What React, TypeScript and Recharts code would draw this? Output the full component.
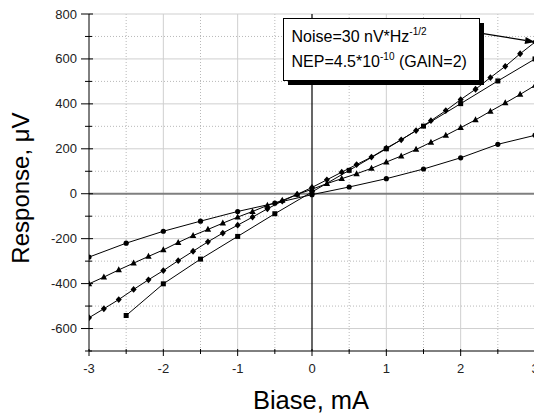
import { LineChart, Line, XAxis, YAxis, CartesianGrid, ReferenceLine } from "recharts";

// bias values, mA
const circleX = [-3, -2.5, -2, -1.5, -1, -0.5, 0, 0.5, 1, 1.5, 2, 2.5, 3];
const fineX = [
    -3, -2.8, -2.6, -2.4, -2.2, -2, -1.8, -1.6, -1.4, -1.2, -1, -0.8, -0.6, -0.4, -0.2,
    0, 0.2, 0.4, 0.6, 0.8, 1, 1.2, 1.4, 1.6, 1.8, 2, 2.2, 2.4, 2.6, 2.8, 3,
];
const squareX = [-2.5, -2, -1.5, -1, -0.5, 0, 0.5, 1, 1.5, 2, 2.5, 3];

// response, uV
const circleY = [-282, -220, -167, -122, -79, -42, -4, 30, 67, 110, 160, 220, 260];
const triangleY = [
    -401, -371, -339, -309, -279, -250, -217, -186, -159, -131, -104, -79, -52, -30, -3,
    20, 45, 67, 89, 113, 141, 168, 197, 229, 260, 294, 329, 367, 404, 442, 482,
];
const diamondY = [
    -552, -512, -471, -426, -383, -342, -298, -256, -214, -175, -140, -104, -67, -33, -3,
    28, 62, 96, 130, 163, 203, 240, 281, 325, 370, 419, 465, 517, 567, 623, 675,
];
const squareY = [-542, -401, -291, -190, -89, 8, 104, 200, 301, 401, 502, 600];

// axis ticks
const xTicks = [-3, -2.5, -2, -1.5, -1, -0.5, 0, 0.5, 1, 1.5, 2, 2.5, 3];
const yTicks = [-700, -600, -500, -400, -300, -200, -100, 0, 100, 200, 300, 400, 500, 600, 700, 800];
const xMajor = [-2, -1, 1, 2, 3];
const xMinor = [-2.5, -1.5, -0.5, 0.5, 1.5, 2.5];
const yMajor = [-600, -400, -200, 200, 400, 600, 800];
const yMinor = [-500, -300, -100, 100, 300, 500, 700];

// annotation arrow: from the box edge to the last diamond point
const arrowFrom = { x: 2.305, y: 713 };
const arrowTo = { x: 3, y: 675 };

const FONT = "'Liberation Sans', Arial, sans-serif";

const toPoints = (xs: number[], ys: number[]) => xs.map((x, i) => ({ x, y: ys[i] }));

const circles = toPoints(circleX, circleY);
const triangles = toPoints(fineX, triangleY);
const diamonds = toPoints(fineX, diamondY);
const squares = toPoints(squareX, squareY);

const CircleDot = (p: any) =>
    p.cx == null ? null : <circle key={p.index} cx={p.cx} cy={p.cy} r={2.6} fill="#000" />;

const TriangleDot = (p: any) =>
    p.cx == null ? null : (
        <polygon
            key={p.index}
            points={`${p.cx},${p.cy - 3.6} ${p.cx - 3.2},${p.cy + 2.4} ${p.cx + 3.2},${p.cy + 2.4}`}
            fill="#000"
        />
    );

const DiamondDot = (p: any) =>
    p.cx == null ? null : (
        <polygon
            key={p.index}
            points={`${p.cx},${p.cy - 3.4} ${p.cx + 3},${p.cy} ${p.cx},${p.cy + 3.4} ${p.cx - 3},${p.cy}`}
            fill="#000"
        />
    );

const SquareDot = (p: any) =>
    p.cx == null ? null : (
        <rect key={p.index} x={p.cx - 2.5} y={p.cy - 2.5} width={5} height={5} fill="#000" />
    );

const YTick = (p: any) => {
    const v = p.payload.value;
    const major = v % 200 === 0;
    return (
        <g>
            <line x1={p.x - (major ? 8 : 4)} x2={p.x + (major ? 4 : 3)} y1={p.y} y2={p.y} stroke="#000" />
            {major && (
                <text x={p.x - 12} y={p.y + 4.5} textAnchor="end" fontSize={13} fontFamily={FONT} fill="#222">
                    {v}
                </text>
            )}
        </g>
    );
};

const XTick = (p: any) => {
    const v = p.payload.value;
    const major = Number.isInteger(v);
    return (
        <g>
            <line x1={p.x} x2={p.x} y1={p.y - 2} y2={p.y + (major ? 5 : 3)} stroke="#000" />
            {major && (
                <text x={p.x} y={p.y + 22} textAnchor="middle" fontSize={13} fontFamily={FONT} fill="#222">
                    {v}
                </text>
            )}
        </g>
    );
};

const Arrow = (p: any) => {
    const { x1, y1, x2, y2 } = p;
    const dx = x2 - x1;
    const dy = y2 - y1;
    const len = Math.sqrt(dx * dx + dy * dy) || 1;
    const ux = dx / len;
    const uy = dy / len;
    const bx = x2 - ux * 10;
    const by = y2 - uy * 10;
    return (
        <g>
            <line x1={x1} y1={y1} x2={bx} y2={by} stroke="#000" strokeWidth={1.2} />
            <polygon
                points={`${x2},${y2} ${bx - uy * 3.5},${by + ux * 3.5} ${bx + uy * 3.5},${by - ux * 3.5}`}
                fill="#000"
            />
        </g>
    );
};

export default function App() {
    return (
        <div
            style={{
                position: "absolute",
                left: 0,
                top: 0,
                width: 534,
                height: 414,
                overflow: "hidden",
                background: "#fff",
            }}
        >
            <LineChart width={540} height={414} margin={{ top: 14, right: 5, bottom: 23, left: 29 }}>
                <CartesianGrid
                    verticalValues={xMinor}
                    horizontalValues={yMinor}
                    stroke="#b8b8b8"
                    strokeDasharray="1 2"
                />
                <CartesianGrid verticalValues={xMajor} horizontalValues={yMajor} stroke="#cfcfcf" />
                <XAxis
                    type="number"
                    dataKey="x"
                    domain={[-3, 3]}
                    ticks={xTicks}
                    interval={0}
                    height={40}
                    tickSize={0}
                    tickMargin={0}
                    tickLine={false}
                    axisLine={{ stroke: "#000" }}
                    tick={XTick}
                    allowDataOverflow
                />
                <YAxis
                    type="number"
                    dataKey="y"
                    domain={[-700, 800]}
                    ticks={yTicks}
                    interval={0}
                    width={60}
                    tickSize={0}
                    tickMargin={0}
                    tickLine={false}
                    axisLine={{ stroke: "#000" }}
                    tick={YTick}
                    allowDataOverflow
                />
                <ReferenceLine y={0} stroke="#7f7f7f" strokeWidth={2} />
                <ReferenceLine x={0} stroke="#000" strokeWidth={1.2} />
                <Line data={circles} dataKey="y" stroke="#000" strokeWidth={1} dot={CircleDot} isAnimationActive={false} />
                <Line data={triangles} dataKey="y" stroke="#000" strokeWidth={1} dot={TriangleDot} isAnimationActive={false} />
                <Line data={diamonds} dataKey="y" stroke="#000" strokeWidth={1} dot={DiamondDot} isAnimationActive={false} />
                <Line data={squares} dataKey="y" stroke="#000" strokeWidth={1} dot={SquareDot} isAnimationActive={false} />
                <ReferenceLine segment={[arrowFrom, arrowTo]} ifOverflow="visible" shape={Arrow} />
            </LineChart>

            <svg
                width={534}
                height={414}
                style={{ position: "absolute", left: 0, top: 0, pointerEvents: "none" }}
                fontFamily={FONT}
            >
                <rect x={288} y={23} width={196} height={62} fill="#000" />
                <rect x={283.5} y={18.5} width={196} height={62} fill="#fff" stroke="#000" />
                <text x={291.5} y={41.5} fontSize={16} fill="#000">
                    Noise=30 nV*Hz
                    <tspan fontSize={10} dy={-7}>-1/2</tspan>
                </text>
                <text x={291.5} y={67} fontSize={16} fill="#000">
                    NEP=4.5*10
                    <tspan fontSize={10} dy={-7}>-10</tspan>
                    <tspan dy={7}> (GAIN=2)</tspan>
                </text>
                <text x={311} y={408.5} fontSize={25.5} textAnchor="middle" fill="#000">
                    Biase, mA
                </text>
                <text
                    x={29}
                    y={188}
                    fontSize={24}
                    textAnchor="middle"
                    fill="#000"
                    transform="rotate(-90 29 188)"
                >
                    Response, μV
                </text>
            </svg>
        </div>
    );
}
